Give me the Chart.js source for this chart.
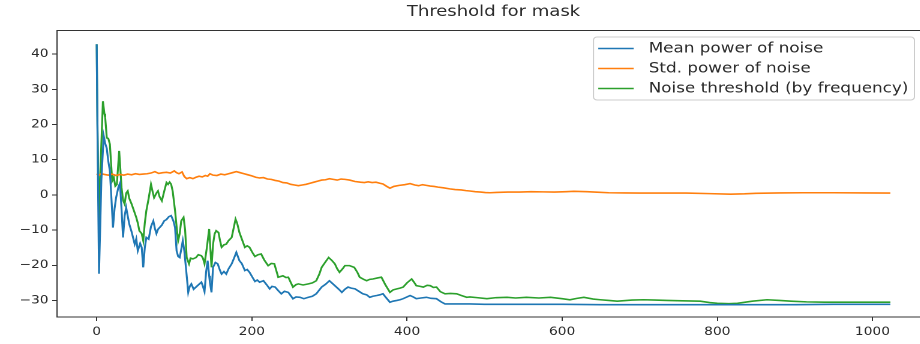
<!DOCTYPE html>
<html>
<head>
<meta charset="utf-8">
<title>Threshold for mask</title>
<script src="https://cdn.jsdelivr.net/npm/chart.js@4.4.1/dist/chart.umd.min.js"></script>
<style>
  html, body { margin: 0; padding: 0; background: #ffffff; overflow: hidden; }
  #wrap { width: 775px; height: 344px; transform: scaleX(1.2); transform-origin: 0 0; }
</style>
</head>
<body>
<div id="wrap"><canvas id="chart" width="775" height="344"></canvas></div>
<script>
// Frequency-bin indices and values of each series
const seriesNames = ['Mean power of noise', 'Std. power of noise', 'Noise threshold (by frequency)'];

const meanX = [0,1,3,6,9,11,13,15,17,19,21,23,25,28,30,32,34,36,38,40,42,45,49,51,53,56,58,60,62,64,67,70,73,75,77,79,81,84,87,90,93,96,99,101,103,105,107,109,111,113,115,118,120,122,125,128,131,135,137,139,141,143,145,146,148,150,153,156,159,161,164,167,170,174,177,180,182,184,187,191,194,197,201,204,207,210,215,219,223,226,230,234,238,242,247,250,253,257,262,267,273,278,283,287,290,295,300,304,309,313,316,320,324,328,333,338,343,348,352,356,361,365,369,373,378,382,387,391,395,400,404,408,412,418,425,431,438,444,449,456,464,472,481,500,550,600,650,700,750,800,850,900,950,1023];
const meanY = [42.8,18,-22.4,4,16.8,14.6,13.2,9.5,6.8,-1,-9.3,-4,-0.8,2.2,3.3,-4,-12.1,-6,-3.6,-6,-8.3,-10.5,-14,-12.5,-15.9,-13.8,-14.9,-20.6,-15,-12.1,-12.6,-9,-7.4,-9.5,-11,-9.8,-9.3,-8.6,-7.4,-7,-6.2,-5.9,-7.5,-9.3,-15.9,-17.5,-17.8,-15.5,-13,-16,-20.6,-27.7,-26,-25.3,-26.8,-26.2,-25.6,-24.8,-26,-27.5,-22,-18.7,-23,-25,-27.7,-20.6,-19.2,-19.6,-21.5,-22.5,-21.8,-22.5,-21,-19.6,-18,-16.3,-17.5,-18.7,-19.5,-21.5,-21.2,-22,-23.5,-24.6,-24.2,-24.8,-24.4,-25.5,-26.7,-26,-26.2,-27.2,-28.1,-27.4,-27.7,-28.6,-29.5,-29,-29.1,-29.5,-29.1,-28.8,-28.1,-27,-26.2,-25.4,-24.4,-25.2,-26.2,-27,-27.7,-26.8,-26.2,-26.5,-26.7,-27.4,-28.1,-28.4,-29.1,-28.8,-28.6,-28.4,-28.1,-29.2,-30.5,-30.2,-30,-29.8,-29.5,-29,-28.6,-29,-29.5,-29.3,-29.1,-29.4,-29.5,-30.4,-31,-31,-31,-31,-31,-31.1,-31.1,-31.1,-31.2,-31.2,-31.2,-31.2,-31.2,-31.2,-31.1,-31.1];

const stdX = [0,3,6,10,15,20,25,30,35,40,45,50,55,60,65,70,75,80,85,90,95,100,103,106,110,113,116,120,124,128,132,136,140,143,146,150,155,160,165,170,175,180,185,190,195,200,205,210,215,220,225,230,235,240,245,250,255,260,265,270,275,280,285,290,295,300,305,310,315,320,326,333,340,345,350,355,360,365,369,374,378,383,390,397,404,410,415,420,425,430,435,440,447,455,462,470,476,481,488,495,501,507,515,530,545,560,575,590,605,615,632,645,660,680,700,730,760,790,817,835,850,880,910,950,990,1023];
const stdY = [6.0,5.6,6.0,5.8,5.6,5.9,5.5,5.8,5.6,5.9,5.7,6.0,5.8,5.9,6.0,6.2,6.6,6.1,6.3,6.4,6.2,6.8,6.3,6.0,6.5,5.2,4.6,4.9,4.6,5.0,5.3,5.1,5.5,5.3,6.0,5.6,5.5,5.9,5.7,6.0,6.3,6.6,6.3,6.0,5.7,5.4,5.0,4.8,4.9,4.5,4.4,4.1,3.9,3.5,3.4,3.0,2.8,2.6,2.8,3.0,3.3,3.6,3.9,4.2,4.3,4.6,4.4,4.2,4.5,4.4,4.2,3.8,3.6,3.5,3.7,3.5,3.6,3.3,3.1,2.4,1.9,2.4,2.7,2.9,3.2,2.8,2.6,2.9,2.7,2.5,2.4,2.2,2.0,1.7,1.5,1.4,1.2,1.1,0.9,0.8,0.65,0.6,0.7,0.8,0.8,0.9,0.85,0.8,0.9,1.0,0.9,0.75,0.6,0.55,0.5,0.5,0.5,0.35,0.2,0.3,0.45,0.55,0.6,0.6,0.55,0.5];

const thrX = [0,1,3,5,8,10,11,13,15,17,20,22,24,26,29,32,34,36,38,40,42,45,48,51,53,55,58,60,62,64,67,70,72,74,77,79,81,84,87,90,92,94,96,98,101,103,105,107,109,112,114,116,119,121,124,128,131,135,137,139,142,145,148,150,152,154,157,159,161,164,167,170,174,177,179,181,184,187,191,194,197,201,204,208,212,216,221,225,229,234,240,244,247,250,253,257,260,266,273,278,283,287,290,295,299,303,307,310,313,317,320,326,332,336,339,344,348,352,356,362,367,372,378,382,387,391,395,400,406,409,412,417,421,426,430,434,438,443,449,456,464,470,477,481,490,503,515,529,540,554,570,585,600,610,619,628,640,649,660,671,690,705,720,735,755,778,790,800,815,826,845,864,880,895,915,938,970,1000,1023];
const thrY = [42.8,20,-8,8,26.6,23,21.9,16.2,16,14.4,4.0,5,2.5,3,12.5,2.1,-1.5,-2.6,0.5,1.1,-1,-2.6,-4.5,-6.4,-8,-10.2,-11,-13,-8,-4.5,-1,3.0,1,-0.8,0.5,1.1,-0.5,-1.7,1,3.5,3,3.6,3.0,1,-4.5,-9,-13,-11,-7.4,-6.4,-10,-17.8,-19.6,-18,-18.2,-17.8,-17,-17.3,-18,-19.6,-15,-9.7,-20.6,-14,-11.1,-10.2,-10.7,-13,-14.9,-14.2,-14,-13,-12.1,-9,-6.9,-8,-10.7,-12.5,-14.9,-14.5,-14.9,-16.5,-17.5,-17,-16.8,-18.5,-20.1,-19.5,-19.6,-23.4,-23,-23.5,-23.4,-24.8,-26.2,-25.5,-25.3,-25.6,-25.3,-25,-24.4,-22.5,-20.6,-19,-17.8,-18.6,-19.6,-21,-22,-21,-20.1,-20.1,-20.6,-22,-23.4,-24,-24.4,-24,-23.9,-23.6,-23.4,-25.5,-27.7,-27,-26.7,-26.5,-26.2,-25,-23.9,-24.8,-25.8,-26,-26.2,-25.7,-25.8,-26.3,-26.2,-27.5,-28.1,-28,-28.1,-28.6,-29.1,-29,-29.2,-29.5,-29.2,-29.1,-29.3,-29.1,-29.3,-29.1,-29.5,-29.8,-29.4,-29.1,-29.6,-29.8,-30,-30.2,-29.9,-29.8,-29.9,-30,-30.1,-30.2,-30.6,-30.8,-30.9,-30.8,-30.2,-29.8,-30,-30.2,-30.4,-30.5,-30.5,-30.5,-30.5];

const xTicks = [0, 200, 400, 600, 800, 1000];
const yTicks = [-30, -20, -10, 0, 10, 20, 30, 40];

const colors = ['#1f77b4', '#ff7f0e', '#2ca02c'];
const textColor = '#2b2b2b';
const FONT = '"DejaVu Sans", "Liberation Sans", sans-serif';

const toPoints = (xs, ys) => xs.map((x, i) => ({ x: x, y: ys[i] }));
const minusSign = v => (v < 0 ? '\u2212' + Math.abs(v) : String(v));

// Four-sided axes frame
const frame = {
  id: 'frame',
  afterDatasetsDraw(chart) {
    const { ctx, chartArea: a } = chart;
    ctx.save();
    ctx.strokeStyle = '#333333';
    ctx.lineWidth = 1;
    ctx.strokeRect(a.left, a.top, a.right - a.left, a.bottom - a.top);
    ctx.restore();
  }
};

// Boxed legend in the upper right of the plot
const legendBox = {
  id: 'legendBox',
  afterDatasetsDraw(chart) {
    const { ctx, chartArea: a } = chart;
    const ds = chart.data.datasets;
    ctx.save();
    ctx.font = '14px ' + FONT;
    const textW = Math.max(...ds.map(d => ctx.measureText(d.label).width));
    const right = a.right - 13;
    const left = right - (46 + textW + 5);
    const top = a.top + 6.5;
    const h = 63;
    ctx.beginPath();
    ctx.roundRect(left, top, right - left, h, 3);
    ctx.fillStyle = 'rgba(255,255,255,0.8)';
    ctx.fill();
    ctx.strokeStyle = '#cccccc';
    ctx.lineWidth = 1;
    ctx.stroke();
    ds.forEach((d, i) => {
      const y = top + 11.5 + i * 20;
      ctx.beginPath();
      ctx.moveTo(left + 4, y);
      ctx.lineTo(left + 33.5, y);
      ctx.strokeStyle = d.borderColor;
      ctx.lineWidth = d.borderWidth;
      ctx.stroke();
      ctx.fillStyle = textColor;
      ctx.textBaseline = 'middle';
      ctx.textAlign = 'left';
      ctx.fillText(d.label, left + 46, y + 0.5);
    });
    ctx.restore();
  }
};

const lineSet = (label, pts, color) => ({
  label: label,
  data: pts,
  borderColor: color,
  backgroundColor: color,
  borderWidth: 1.6,
  pointRadius: 0,
  tension: 0,
  fill: false
});

new Chart(document.getElementById('chart'), {
  type: 'line',
  data: {
    datasets: [
      lineSet(seriesNames[0], toPoints(meanX, meanY), colors[0]),
      lineSet(seriesNames[1], toPoints(stdX, stdY), colors[1]),
      lineSet(seriesNames[2], toPoints(thrX, thrY), colors[2])
    ]
  },
  options: {
    responsive: false,
    devicePixelRatio: 2,
    animation: false,
    layout: { padding: { left: 0, right: 0, top: 0, bottom: 0 } },
    plugins: {
      legend: { display: false },
      tooltip: { enabled: false },
      title: {
        display: true,
        fullSize: false,
        text: 'Threshold for mask',
        color: textColor,
        font: { family: FONT, size: 15, weight: 'normal' },
        padding: { top: 3, bottom: 9.5 }
      }
    },
    scales: {
      x: {
        type: 'linear',
        min: -51.15,
        max: 1074.15,
        afterBuildTicks: s => { s.ticks = xTicks.map(v => ({ value: v })); },
        afterFit: s => { s.height = 27; },
        grid: { display: true, drawOnChartArea: false, drawTicks: true, tickLength: 4, color: '#333333' },
        border: { display: false },
        ticks: {
          color: textColor,
          padding: 4,
          maxRotation: 0,
          font: { family: FONT, size: 11.5 },
          callback: v => minusSign(v)
        }
      },
      y: {
        type: 'linear',
        min: -34.7,
        max: 46.7,
        afterBuildTicks: s => { s.ticks = yTicks.map(v => ({ value: v })); },
        afterFit: s => { s.width = 47.5; },
        grid: { display: true, drawOnChartArea: false, drawTicks: true, tickLength: 4, color: '#333333' },
        border: { display: false },
        ticks: {
          color: textColor,
          padding: 3,
          font: { family: FONT, size: 11.5 },
          callback: v => minusSign(v)
        }
      }
    }
  },
  plugins: [frame, legendBox]
});
</script>
</body>
</html>
